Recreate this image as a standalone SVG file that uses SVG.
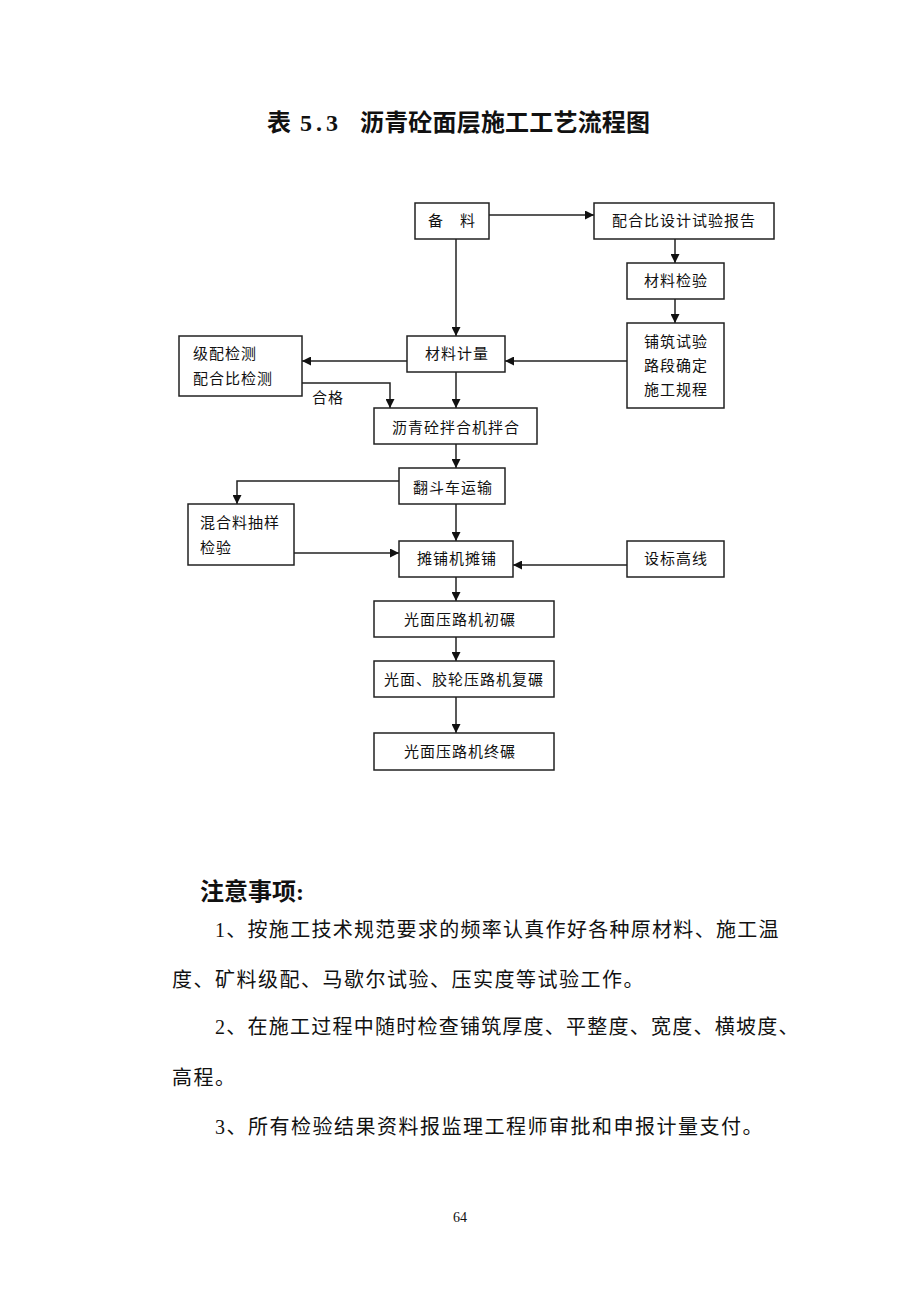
<svg xmlns="http://www.w3.org/2000/svg" width="920" height="1302" viewBox="0 0 920 1302">
<defs>
<style>
.box{fill:#fff;stroke:#222;stroke-width:1.5}
.t{font-family:"Liberation Serif","Noto Sans CJK SC",serif;font-size:15px;fill:#111;letter-spacing:1px}
.c{text-anchor:middle}
.ln{fill:none;stroke:#222;stroke-width:1.5}
.note{font-family:"Liberation Serif","Noto Sans CJK SC",serif;font-size:20px;fill:#111;letter-spacing:1.5px}
.title{font-family:"Liberation Serif","Noto Sans CJK SC",serif;font-size:24px;font-weight:bold;fill:#111}
</style>
<marker id="ah" viewBox="0 0 10 10" refX="10" refY="5" markerWidth="9" markerHeight="9" markerUnits="userSpaceOnUse" orient="auto">
<path d="M0,0 L10,5 L0,10 z" fill="#111"/>
</marker>
</defs>
<rect width="920" height="1302" fill="#fff"/>

<text class="title" y="131"><tspan x="267">表</tspan><tspan x="300" letter-spacing="4">5.3</tspan><tspan x="360" textLength="290" lengthAdjust="spacing">沥青砼面层施工工艺流程图</tspan></text>

<g id="connectors">
<path class="ln" d="M489,215 H594" marker-end="url(#ah)"/>
<path class="ln" d="M675,239 V263" marker-end="url(#ah)"/>
<path class="ln" d="M675,299 V323" marker-end="url(#ah)"/>
<path class="ln" d="M456,239 V336" marker-end="url(#ah)"/>
<path class="ln" d="M627,361 H505" marker-end="url(#ah)"/>
<path class="ln" d="M407,361 H302" marker-end="url(#ah)"/>
<path class="ln" d="M302,383 H390 V408" marker-end="url(#ah)"/>
<path class="ln" d="M456,372 V408" marker-end="url(#ah)"/>
<path class="ln" d="M456,444 V468" marker-end="url(#ah)"/>
<path class="ln" d="M399,481 H237 V504" marker-end="url(#ah)"/>
<path class="ln" d="M456,504 V541" marker-end="url(#ah)"/>
<path class="ln" d="M294,553 H399" marker-end="url(#ah)"/>
<path class="ln" d="M627,565 H513" marker-end="url(#ah)"/>
<path class="ln" d="M456,577 V601" marker-end="url(#ah)"/>
<path class="ln" d="M456,637 V661" marker-end="url(#ah)"/>
<path class="ln" d="M456,697 V733" marker-end="url(#ah)"/>
<text class="t" x="312" y="403">合格</text>
</g>

<g id="n-beiliao"><rect class="box" x="415" y="203" width="74" height="36"/><text class="t c" x="452" y="226">备　料</text></g>
<g id="n-peihebi"><rect class="box" x="594" y="203" width="180" height="36"/><text class="t c" x="684" y="226">配合比设计试验报告</text></g>
<g id="n-cailiaojianyan"><rect class="box" x="627" y="263" width="97" height="36"/><text class="t c" x="676" y="286">材料检验</text></g>
<g id="n-puzhu"><rect class="box" x="627" y="323" width="97" height="85"/>
<text class="t c" x="676" y="347">铺筑试验</text><text class="t c" x="676" y="371">路段确定</text><text class="t c" x="676" y="395">施工规程</text></g>
<g id="n-cailiaojiliang"><rect class="box" x="407" y="336" width="98" height="36"/><text class="t c" x="457" y="359">材料计量</text></g>
<g id="n-jipei"><rect class="box" x="179" y="336" width="123" height="60"/>
<text class="t" x="193" y="359">级配检测</text><text class="t" x="193" y="384">配合比检测</text></g>
<g id="n-banhe"><rect class="box" x="374" y="408" width="163" height="36"/><text class="t c" x="456" y="433">沥青砼拌合机拌合</text></g>
<g id="n-fandou"><rect class="box" x="399" y="468" width="106" height="36"/><text class="t c" x="453" y="493">翻斗车运输</text></g>
<g id="n-hunheliao"><rect class="box" x="188" y="504" width="106" height="61"/>
<text class="t" x="200" y="528">混合料抽样</text><text class="t" x="200" y="553">检验</text></g>
<g id="n-tanpu"><rect class="box" x="399" y="541" width="114" height="36"/><text class="t c" x="457" y="564">摊铺机摊铺</text></g>
<g id="n-biaogao"><rect class="box" x="627" y="541" width="97" height="36"/><text class="t c" x="676" y="564">设标高线</text></g>
<g id="n-chunian"><rect class="box" x="374" y="601" width="180" height="36"/><text class="t c" x="460" y="625">光面压路机初碾</text></g>
<g id="n-funian"><rect class="box" x="374" y="661" width="180" height="36"/><text class="t c" x="464" y="685">光面、胶轮压路机复碾</text></g>
<g id="n-zhongnian"><rect class="box" x="374" y="733" width="180" height="37"/><text class="t c" x="460" y="757">光面压路机终碾</text></g>

<g id="notes">
<text class="title" x="200" y="900">注意事项:</text>
<text class="note" x="215" y="937" textLength="565" lengthAdjust="spacing">1、按施工技术规范要求的频率认真作好各种原材料、施工温</text>
<text class="note" x="172" y="987">度、矿料级配、马歇尔试验、压实度等试验工作。</text>
<text class="note" x="215" y="1034" textLength="585" lengthAdjust="spacing">2、在施工过程中随时检查铺筑厚度、平整度、宽度、横坡度、</text>
<text class="note" x="172" y="1085">高程。</text>
<text class="note" x="215" y="1134">3、所有检验结果资料报监理工程师审批和申报计量支付。</text>
</g>

<text x="460" y="1222" text-anchor="middle" font-family="Liberation Serif, serif" font-size="14" fill="#111">64</text>
</svg>
